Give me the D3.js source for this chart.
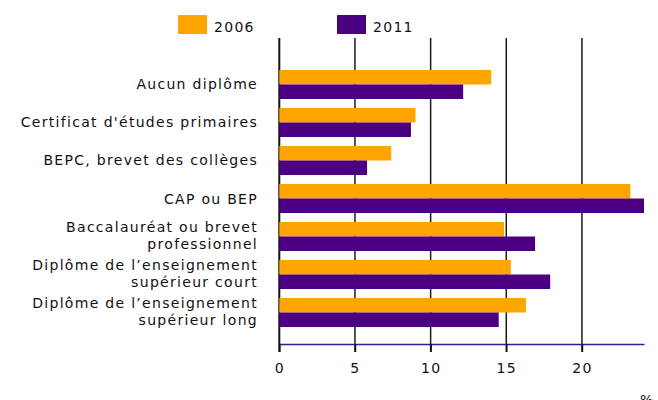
<!DOCTYPE html>
<html>
<head>
<meta charset="utf-8">
<script src="https://cdn.jsdelivr.net/npm/d3@7"></script>
<style>
  body { margin: 0; background: #fff; }
  svg text { font-family: "DejaVu Sans", Verdana, sans-serif; font-size: 14px; letter-spacing: 1.3px; fill: #111; }
</style>
</head>
<body>
<div id="chart"></div>
<script>
// --------------------------------------
//  Data
// --------------------------------------

const categories = [
  ["Aucun diplôme"],
  ["Certificat d'études primaires"],
  ["BEPC, brevet des collèges"],
  ["CAP ou BEP"],
  ["Baccalauréat ou brevet", "professionnel"],
  ["Diplôme de l’enseignement", "supérieur court"],
  ["Diplôme de l’enseignement", "supérieur long"]
];
const years = ["2006", "2011"];
const values2006 = [14.0, 9.0, 7.4, 23.2, 14.85, 15.3, 16.3];
const values2011 = [12.15, 8.7, 5.8, 24.1, 16.9, 17.9, 14.5];
const tickValues = [0, 5, 10, 15, 20];
const colors = ["#FFA500", "#4B0082"];

const data = categories.map((c, i) => ({
  key: c.join(" "),
  lines: c,
  vals: [values2006[i], values2011[i]]
}));

// --------------------------------------
//  Canvas
// --------------------------------------

const width = 658;
const height = 400;
const plotTop = 38;
const axisY = 344;

const svg = d3.select("#chart")
  .append("svg")
    .attr("width", width)
    .attr("height", height);

// --------------------------------------
//  Scales
// --------------------------------------

let x = d3.scaleLinear()
    .domain([0, d3.max(values2011.concat(values2006))])
    .range([279.3, 644]);

let y = d3.scaleBand()
    .domain(data.map(d => d.key))
    .range([53, axisY])
    .paddingInner(0.237)
    .paddingOuter(0.447);

let ySub = d3.scaleBand()
    .domain(years)
    .range([0, y.bandwidth()]);

// --------------------------------------
//  Grid and axes
// --------------------------------------

svg.append("g")
  .selectAll("line")
  .data(tickValues.filter(t => t > 0))
  .join("line")
    .attr("x1", d => x(d)).attr("x2", d => x(d))
    .attr("y1", plotTop).attr("y2", axisY + 8)
    .attr("stroke", "#1a1a1a")
    .attr("stroke-width", 1.5);

svg.append("line")
    .attr("x1", x(0)).attr("x2", x(0))
    .attr("y1", plotTop).attr("y2", axisY + 8)
    .attr("stroke", "#111")
    .attr("stroke-width", 2);

const xAxis = svg.append("g")
    .attr("transform", `translate(0, ${axisY})`)
    .call(d3.axisBottom(x)
      .tickValues(tickValues)
      .tickSize(8)
      .tickSizeOuter(0)
      .tickPadding(11)
      .tickFormat(d3.format("d")));

xAxis.select(".domain").attr("stroke", "#22229a").attr("stroke-width", 1.6);
xAxis.selectAll(".tick line").attr("stroke", "#111").attr("stroke-width", 1.5);
xAxis.selectAll(".tick text")
    .attr("font-family", null)
    .attr("font-size", null)
    .style("font-size", "14px");

// unit label, partly below the picture's edge as in the source
svg.append("text")
    .attr("x", 640)
    .attr("y", 405)
    .text("%");

// --------------------------------------
//  Bars
// --------------------------------------

const groups = svg.append("g")
  .selectAll("g")
  .data(data)
  .join("g")
    .attr("transform", d => `translate(0, ${y(d.key)})`);

groups.selectAll("rect")
  .data(d => d.vals.map((v, i) => ({year: years[i], value: v, i: i})))
  .join("rect")
    .attr("x", x(0))
    .attr("y", d => ySub(d.year))
    .attr("width", d => x(d.value) - x(0))
    .attr("height", ySub.bandwidth())
    .attr("fill", d => colors[d.i]);

// --------------------------------------
//  Category labels
// --------------------------------------

const labels = svg.append("g")
  .selectAll("text")
  .data(data)
  .join("text")
    .attr("text-anchor", "end")
    .attr("transform", d => `translate(258, ${y(d.key) + y.bandwidth() / 2})`);

labels.selectAll("tspan")
  .data(d => d.lines.map((t, i) => ({t: t, i: i, n: d.lines.length})))
  .join("tspan")
    .attr("x", 0)
    .attr("y", d => d.n === 1 ? 5 : (d.i === 0 ? -4.5 : 12))
    .text(d => d.t);

// --------------------------------------
//  Legend
// --------------------------------------

const legendX = [178, 337];
const legend = svg.append("g")
  .selectAll("g")
  .data(years)
  .join("g")
    .attr("transform", (d, i) => `translate(${legendX[i]}, 15)`);

legend.append("rect")
    .attr("width", 29)
    .attr("height", 19)
    .attr("fill", (d, i) => colors[i]);

legend.append("text")
    .attr("x", 36)
    .attr("y", 16.5)
    .text(d => d);
</script>
</body>
</html>
